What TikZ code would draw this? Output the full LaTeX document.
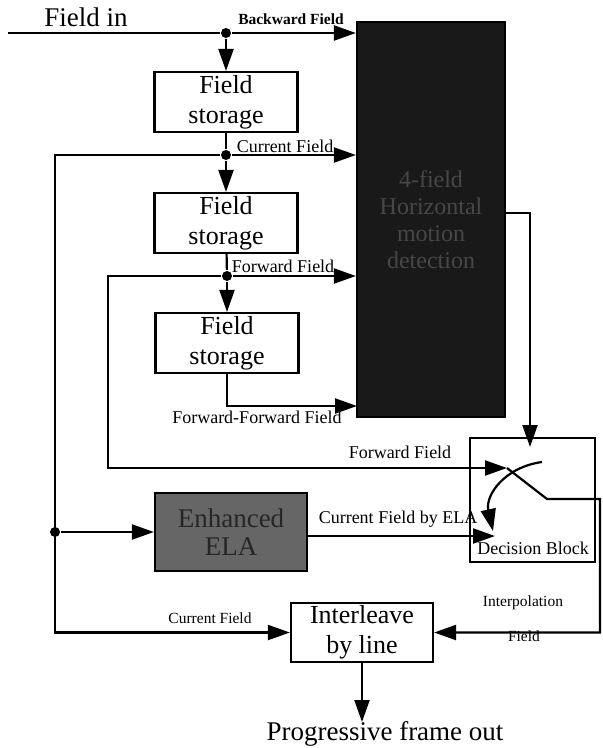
\documentclass[tikz,border=0pt]{standalone}
\usepackage{fontspec}
\setmainfont{Liberation Serif}
\usetikzlibrary{arrows.meta}
\begin{document}
\begin{tikzpicture}[x=1pt,y=-1pt,line width=2.2pt,>={Triangle[length=22pt,width=15pt]}]
	\tikzstyle{every node}=[font=\fontsize{18pt}{20pt}\selectfont]
	\tikzstyle{storebox}=[draw,minimum width=143pt,minimum height=60pt,inner sep=0pt,align=center,font=\fontsize{26pt}{30pt}\selectfont]
	\tikzstyle{darkbox}=[draw,fill=black!90,text=black!72,minimum width=148pt,minimum height=395pt,inner sep=0pt,align=center,font=\fontsize{24pt}{27pt}\selectfont]
	\tikzstyle{elabox}=[draw,fill=black!60,text=black!85,minimum width=152pt,minimum height=78pt,inner sep=0pt,align=center,font=\fontsize{27pt}{28pt}\selectfont]
	\tikzstyle{junction}=[circle,fill,inner sep=0pt,minimum size=10pt]
	\tikzstyle{small}=[font=\fontsize{15.5pt}{17pt}\selectfont]
	
	\useasboundingbox (0,0) rectangle (603,748);
	
	% blocks
	\node [storebox] (fs1) at (226,102) {Field\\storage};
	\node [storebox] (fs2) at (226,223) {Field\\storage};
	\node [storebox] (fs3) at (227,343) {Field\\storage};
	\node [darkbox] (det) at (431,219.5) {4-field\\Horizontal\\motion\\detection};
	\node [elabox] (ela) at (231,532) {Enhanced\\ELA};
	\node [draw,minimum width=125pt,minimum height=124pt] (dec) at (532.5,500) {};
	\node (declbl) at (533,548) {Decision Block};
	\node [draw,minimum width=142pt,minimum height=59pt,inner sep=0pt,align=center,font=\fontsize{26pt}{30pt}\selectfont] (il) at (362,632.5) {Interleave\\by line};
	
	% junctions and corners
	\coordinate (in) at (8,33);
	\node [junction] (j1) at (226,33) {};
	\node [junction] (j2) at (226,155) {};
	\node [junction] (j3) at (227,276) {};
	\coordinate (cl) at (55,155);
	\coordinate (fl) at (108,276);
	\coordinate (ffin) at (357,406);
	\coordinate (decin) at (530,447);
	\coordinate (sw) at (507,468);
	\coordinate (swk) at (547,499);
	\coordinate (re) at (600,499);
	\coordinate (arcs) at (542,462);
	\coordinate (arce) at (493,531);
	\coordinate (elaout) at (495,536);
	\coordinate (outtip) at (362,722);
	\node [junction] (j4) at (cl |- ela.west) {};
	
	% connections
	\draw [->] (in) -- (j1) -- (j1 -| det.west);
	\draw [->] (j1) -- (fs1);
	\draw (fs1) -- (j2);
	\draw [->] (j2) -- (fs2);
	\draw [->] (j2) -- (j2 -| det.west);
	\draw [->] (j2) -- (cl) |- (il.west);
	\draw [->] (j4) -- (ela);
	\draw (fs2) -- (j3);
	\draw [->] (j3) -- (fs3);
	\draw [->] (j3) -- (j3 -| det.west);
	\draw [->] (j3) -- (fl) |- (sw);
	\draw [->] (fs3.south) |- (ffin);
	\draw [->] ([yshift=6.5pt]det.east) -| (decin);
	\draw [->] (sw) -- (swk) -- (re) |- (il.east);
	\draw [->] (arcs) .. controls (505,467) and (485,495) .. (arce);
	\draw [->] (ela.east |- elaout) -- (elaout);
	\draw [->] (il) -- (outtip);
	
	% labels
	\node (fieldin) at (86,17) {\fontsize{27pt}{30pt}\selectfont Field in};
	\node [small] (bwlbl) at (291,19) {\bfseries Backward Field};
	\node (curlbl) at (285,146) {Current Field};
	\node (fwlbl) at (283,266) {Forward Field};
	\node (fflbl) at (257,417) {Forward-Forward Field};
	\node (fw2lbl) at (400,452) {Forward Field};
	\node (elalbl) at (398,519) {Current Field by ELA};
	\node [small] (cur2lbl) at (210,618) {Current Field};
	\node [small] (interplbl) at (523,603) {Interpolation};
	\node [small] (fieldlbl) at (524,636) {Field};
	\node (prog) at (385,734) {\fontsize{27pt}{30pt}\selectfont Progressive frame out};
	
\end{tikzpicture}
\end{document}
